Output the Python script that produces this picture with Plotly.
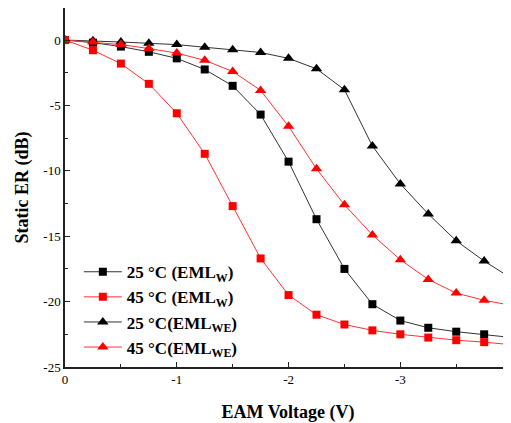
import plotly.graph_objects as go

voltage = [0, -0.25, -0.5, -0.75, -1.0, -1.25, -1.5, -1.75, -2.0, -2.25, -2.5, -2.75, -3.0, -3.25, -3.5, -3.75, -4.0]

er_25_w = [0, -0.2, -0.5, -0.9, -1.4, -2.25, -3.5, -5.7, -9.3, -13.7, -17.5, -20.2, -21.45, -22.0, -22.3, -22.5, -22.75]
er_45_w = [0, -0.78, -1.8, -3.35, -5.6, -8.7, -12.7, -16.7, -19.5, -21.0, -21.75, -22.2, -22.5, -22.75, -22.95, -23.1, -23.3]
er_25_we = [0, -0.05, -0.15, -0.25, -0.35, -0.55, -0.75, -0.95, -1.4, -2.2, -3.8, -8.1, -11.0, -13.3, -15.35, -16.9, -18.25]
er_45_we = [0, -0.15, -0.35, -0.65, -1.0, -1.55, -2.4, -3.85, -6.6, -9.85, -12.6, -14.9, -16.8, -18.3, -19.35, -19.9, -20.3]

x_tickvals = [0, -1, -2, -3, -4]
x_ticktext = ["0", "-1", "-2", "-3", "-4"]
y_tickvals = [0, -5, -10, -15, -20, -25]
y_ticktext = ["0", "-5", "-10", "-15", "-20", "-25"]

names = ["25 °C (EML<sub>W</sub>)", "45 °C (EML<sub>W</sub>)",
         "25 °C(EML<sub>WE</sub>)", "45 °C(EML<sub>WE</sub>)"]

FONT = "Liberation Serif, Times New Roman, DejaVu Serif, serif"

series = [
    (er_25_w, names[0], "#000000", "#333333", "square", 8),
    (er_45_w, names[1], "#ff0000", "#ff3333", "square", 8),
    (er_25_we, names[2], "#000000", "#333333", "triangle-up", 10),
    (er_45_we, names[3], "#ff0000", "#ff3333", "triangle-up", 10),
]

fig = go.Figure()
for ys, name, mcol, lcol, sym, size in series:
    fig.add_trace(go.Scatter(
        x=voltage, y=ys, name=name, mode="lines+markers",
        line=dict(color=lcol, width=1),
        marker=dict(symbol=sym, size=size, color=mcol, line=dict(width=0)),
    ))

axis_common = dict(
    showline=True, linecolor="#222222", linewidth=1.5,
    ticks="inside", ticklen=5, tickwidth=1.2, tickcolor="#222222",
    showgrid=False, zeroline=False, automargin=False,
    tickfont=dict(family=FONT, size=13, color="black"),
)

fig.update_xaxes(
    range=[0, -3.99], tickvals=x_tickvals, ticktext=x_ticktext, mirror=True,
    minor=dict(ticks="inside", ticklen=3, tickwidth=1, tickcolor="#222222", dtick=0.5),
    title=dict(text="<b>EAM Voltage (V)</b>", font=dict(family=FONT, size=18, color="black"), standoff=21),
    **axis_common,
)
fig.update_yaxes(
    range=[-25, 2.45], tickvals=y_tickvals, ticktext=y_ticktext, mirror=False,
    minor=dict(ticks="inside", ticklen=3, tickwidth=1, tickcolor="#222222", dtick=2.5),
    title=dict(text="<b>Static ER (dB)</b>", font=dict(family=FONT, size=18, color="black"), standoff=10),
    **axis_common,
)

fig.update_layout(
    width=503, height=415,
    margin=dict(l=57, r=0, t=0, b=56),
    plot_bgcolor="white", paper_bgcolor="white",
    showlegend=True,
    legend=dict(
        x=0.031, y=0.005, xanchor="left", yanchor="bottom",
        bgcolor="rgba(0,0,0,0)",
        font=dict(family=FONT, size=17, color="black", weight="bold"),
        itemwidth=38, tracegroupgap=0,
    ),
)

fig.write_html("out.html")
